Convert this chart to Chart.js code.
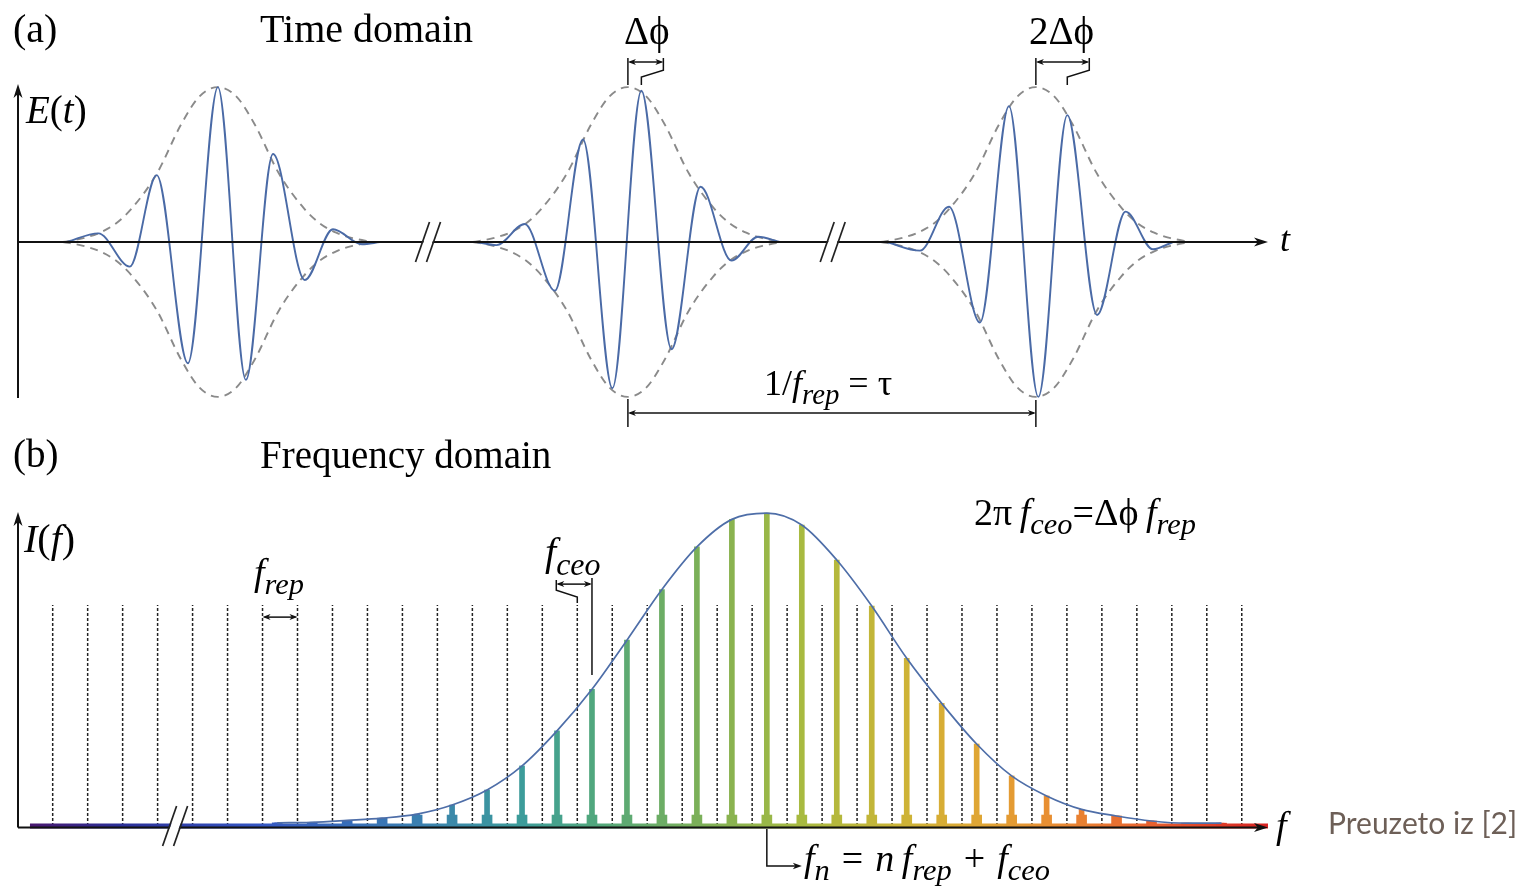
<!DOCTYPE html>
<html>
<head>
<meta charset="utf-8">
<title>Time and frequency domain of a frequency comb</title>
<script src="https://cdn.jsdelivr.net/npm/chart.js@4.4.0/dist/chart.umd.min.js"></script>
<style>
  html, body { margin:0; padding:0; background:#fff; }
  #page { position:relative; width:1520px; height:889px; overflow:hidden; }
  canvas { position:absolute; left:0; }
  #timeCanvas { top:0; }
  #freqCanvas { top:440px; }
  .lbl { position:absolute; font-family:"Liberation Serif","Times New Roman",serif; line-height:1; white-space:nowrap; color:#000; }
  .lbl sub { font-size:0.8em; position:relative; top:0.3em; vertical-align:baseline; line-height:0; }
  .lbl .op { margin:0 12px; }
  .src { position:absolute; font-family:Lato,"Open Sans",sans-serif; font-size:30px; line-height:1; color:#6d5f57; white-space:nowrap; }
</style>
</head>
<body>
<div id="page">
  <canvas id="timeCanvas" width="1520" height="440"></canvas>
  <canvas id="freqCanvas" width="1520" height="449"></canvas>

  <div class="lbl" style="left:13px;top:9px;font-size:40px">(a)</div>
  <div class="lbl" style="left:260px;top:9px;font-size:40px">Time domain</div>
  <div class="lbl" style="left:624px;top:11px;font-size:39px">Δϕ</div>
  <div class="lbl" style="left:1029px;top:11px;font-size:39px">2Δϕ</div>
  <div class="lbl" style="left:26px;top:90px;font-size:39px"><i>E</i>(<i>t</i>)</div>
  <div class="lbl" style="left:1280px;top:221px;font-size:36px"><i>t</i></div>
  <div class="lbl" style="left:764px;top:365px;font-size:36px">1/<i>f</i><sub><i>rep</i></sub> = τ</div>

  <div class="lbl" style="left:13px;top:434px;font-size:39px">(b)</div>
  <div class="lbl" style="left:260px;top:435px;font-size:39px">Frequency domain</div>
  <div class="lbl" style="left:24px;top:519px;font-size:40px"><i>I</i>(<i>f</i>)</div>
  <div class="lbl" style="left:254px;top:553px;font-size:38px"><i>f</i><sub><i>rep</i></sub></div>
  <div class="lbl" style="left:545px;top:532px;font-size:40px"><i>f</i><sub><i>ceo</i></sub></div>
  <div class="lbl" style="left:974px;top:493px;font-size:38px">2π&thinsp;<i>f</i><sub><i>ceo</i></sub>=Δϕ&thinsp;<i>f</i><sub><i>rep</i></sub></div>
  <div class="lbl" style="left:804px;top:839px;font-size:38px"><i>f</i><sub><i>n</i></sub><span class="op">=</span><i>n</i>&thinsp;<i>f</i><sub><i>rep</i></sub><span class="op">+</span><i>f</i><sub><i>ceo</i></sub></div>
  <div class="lbl" style="left:1276px;top:806px;font-size:38px"><i>f</i></div>
  <div class="src" style="left:1328px;top:807px">Preuzeto iz [2]</div>
</div>

<script>
// (a) time domain, time in units where the pulse spacing 1/f_rep is about 10
const pulseCenters = [0, 10.05, 20.05];
const breakTimes = [5.15, 15.07];

// Gaussian envelope shape (offset from centre, level)
const envOffset = [-3.8, -3.3, -2.9, -2.5, -2.1, -1.5, -0.9, -0.45, 0, 0.45, 0.9, 1.5, 2.1, 2.5, 2.9, 3.3, 3.8];
const envLevel  = [0, 0.025, 0.06, 0.12, 0.22, 0.44, 0.76, 0.94, 1, 0.94, 0.76, 0.44, 0.22, 0.12, 0.06, 0.025, 0];

// field extrema of each pulse (time, E)
const pulse1T = [-3.70, -2.93, -2.16, -1.50, -0.735, 0.0, 0.686, 1.35, 2.13, 2.82, 3.53, 3.97];
const pulse1E = [0, 0.056, -0.159, 0.432, -0.783, 1.0, -0.89, 0.568, -0.245, 0.082, -0.015, 0];
const pulse2T = [6.34, 6.83, 7.52, 8.26, 8.95, 9.67, 10.38, 11.12, 11.83, 12.59, 13.24, 13.77];
const pulse2E = [0, -0.02, 0.116, -0.314, 0.662, -0.944, 0.976, -0.692, 0.357, -0.12, 0.034, 0];
const pulse3T = [16.39, 17.21, 17.92, 18.68, 19.39, 20.11, 20.82, 21.55, 22.25, 22.92, 23.41];
const pulse3E = [0, -0.056, 0.228, -0.52, 0.877, -1.0, 0.819, -0.471, 0.196, -0.047, 0];

// (b) frequency domain, frequency in units of f_rep
const gridFreq = [0,1,2,3,4,5,6,7,8,9,10,11,12,13,14,15,16,17,18,19,20,21,22,23,24,25,26,27,28,29,30,31,32,33,34];
const F_CEO = 0.42;
const modeNumbers = [6,7,8,9,10,11,12,13,14,15,16,17,18,19,20,21,22,23,24,25,26,27,28,29,30,31,32,33];
const toothLevel = [0.010, 0.012, 0.018, 0.025, 0.038, 0.067, 0.115, 0.192, 0.304, 0.437, 0.594, 0.756, 0.892, 0.98,
                    1.0, 0.962, 0.85, 0.703, 0.536, 0.392, 0.262, 0.16, 0.096, 0.053, 0.032, 0.016, 0.009, 0.009];
const freqBreak = 3.5;
const GRID_TOP = 0.706;   // height of the dotted mode markers
const FOOT_LEVEL = 0.035; // broadened base of each comb line
const CEO_MODE = 15;      // mode used to mark f_ceo
const REP_MARK = 6;       // grid cell used to mark f_rep

// spectrum colours along the frequency axis
const SPECTRUM = [
  [-0.65, '#4a1870'], [1.9, '#2b2f98'], [5.9, '#3456c4'], [10.5, '#3a80b0'], [13.4, '#3c9c9a'],
  [15.6, '#52a87c'], [18.5, '#7cb058'], [21.4, '#a8ba40'], [24.2, '#ccb436'], [26.5, '#e0a634'],
  [28.8, '#e98a32'], [31.4, '#e8602e'], [34.75, '#d82222']
];

function hexRgb(h) { return [1,3,5].map(i => parseInt(h.substr(i, 2), 16)); }
function colorAt(f) {
  if (f <= SPECTRUM[0][0]) return SPECTRUM[0][1];
  for (let i = 1; i < SPECTRUM.length; i++) {
    if (f <= SPECTRUM[i][0]) {
      const [f0, c0] = SPECTRUM[i-1], [f1, c1] = SPECTRUM[i];
      const u = (f - f0) / (f1 - f0), a = hexRgb(c0), b = hexRgb(c1);
      return 'rgb(' + a.map((v, k) => Math.round(v + (b[k] - v) * u)).join(',') + ')';
    }
  }
  return SPECTRUM[SPECTRUM.length-1][1];
}

// ---- drawing helpers
function line(ctx, pts) {
  ctx.beginPath();
  ctx.moveTo(pts[0][0], pts[0][1]);
  for (let i = 1; i < pts.length; i++) ctx.lineTo(pts[i][0], pts[i][1]);
  ctx.stroke();
}
function arrowHead(ctx, x, y, ang, len, half) {
  ctx.save();
  ctx.translate(x, y); ctx.rotate(ang);
  ctx.beginPath();
  ctx.moveTo(0, 0);
  ctx.lineTo(-len, -half);
  ctx.lineTo(-len * 0.72, 0);
  ctx.lineTo(-len, half);
  ctx.closePath();
  ctx.fill();
  ctx.restore();
}
function dimArrow(ctx, x1, x2, y) {
  line(ctx, [[x1 + 2, y], [x2 - 2, y]]);
  arrowHead(ctx, x1, y, Math.PI, 8, 3);
  arrowHead(ctx, x2, y, 0, 8, 3);
}
function drawBreak(ctx, x, y) {
  const dx = 7, dy = 20, g = 11, a = x - g/2, b = x + g/2;
  ctx.save();
  ctx.fillStyle = '#fff';
  ctx.beginPath();
  ctx.moveTo(a - dx + 1, y + dy); ctx.lineTo(a + dx + 1, y - dy);
  ctx.lineTo(b + dx - 1, y - dy); ctx.lineTo(b - dx - 1, y + dy);
  ctx.closePath(); ctx.fill();
  ctx.strokeStyle = '#222'; ctx.lineWidth = 1.7;
  line(ctx, [[a - dx, y + dy], [a + dx, y - dy]]);
  line(ctx, [[b - dx, y + dy], [b + dx, y - dy]]);
  ctx.restore();
}

// ---- chart (a)
const pulses = [[pulse1T, pulse1E], [pulse2T, pulse2E], [pulse3T, pulse3E]];
const timeDatasets = [];
pulseCenters.forEach(c => {
  [1, -1].forEach(s => timeDatasets.push({
    data: envOffset.map((o, i) => ({ x: c + o, y: s * envLevel[i] })),
    borderColor: '#8a8a8a', borderWidth: 1.9, borderDash: [8, 6],
    cubicInterpolationMode: 'monotone', pointRadius: 0, clip: false, order: 2
  }));
});
pulses.forEach(([ts, es]) => timeDatasets.push({
  data: ts.map((t, i) => ({ x: t, y: es[i] })),
  borderColor: '#4a6aa6', borderWidth: 1.9,
  cubicInterpolationMode: 'monotone', pointRadius: 0, clip: false, order: 1
}));

const timeDecor = {
  id: 'timeDecor',
  afterDatasetsDraw(chart) {
    const { ctx, chartArea: a, scales: { x, y } } = chart;
    const y0 = y.getPixelForValue(0);
    ctx.save();
    ctx.strokeStyle = '#111'; ctx.fillStyle = '#111'; ctx.lineWidth = 2;
    line(ctx, [[a.left, y0], [a.right - 8, y0]]);
    arrowHead(ctx, a.right, y0, 0, 14, 4.5);
    line(ctx, [[a.left, a.bottom - 2], [a.left, a.top + 8]]);
    arrowHead(ctx, a.left, a.top, -Math.PI / 2, 14, 4.5);
    breakTimes.forEach(t => drawBreak(ctx, x.getPixelForValue(t), y0));

    // carrier-envelope phase brackets on pulses 2 and 3
    ctx.lineWidth = 1.5;
    const yTop = y.getPixelForValue(1);
    [1, 2].forEach(k => {
      const c = pulseCenters[k], [ts, es] = pulses[k];
      const idx = ts.findIndex((t, i) => t > c && es[i] > 0);
      const cx = x.getPixelForValue(c), px = x.getPixelForValue(ts[idx]), ex = px + 22;
      line(ctx, [[cx, yTop - 2], [cx, yTop - 29]]);
      line(ctx, [[ex, yTop - 29], [ex, yTop - 17], [px, yTop - 10], [px, yTop - 2]]);
      dimArrow(ctx, cx, ex, yTop - 25);
    });

    // 1/f_rep dimension between pulses 2 and 3
    const yb = y.getPixelForValue(-1);
    const x2 = x.getPixelForValue(pulseCenters[1]), x3 = x.getPixelForValue(pulseCenters[2]);
    line(ctx, [[x2, yb + 2], [x2, yb + 30]]);
    line(ctx, [[x3, yb + 3], [x3, yb + 30]]);
    dimArrow(ctx, x2, x3, yb + 16);
    ctx.restore();
  }
};

new Chart(document.getElementById('timeCanvas'), {
  type: 'line',
  data: { datasets: timeDatasets },
  options: {
    responsive: false, animation: false, events: [],
    layout: { padding: { left: 18, right: 252, top: 84, bottom: 40 } },
    plugins: { legend: { display: false }, tooltip: { enabled: false } },
    scales: {
      x: { type: 'linear', min: -4.9, max: 25.74, display: false, offset: false },
      y: { type: 'linear', min: -1.02, max: 1.02, display: false }
    }
  },
  plugins: [timeDecor]
});

// ---- chart (b)
const toothFreq = modeNumbers.map(n => n + F_CEO);
const toothColors = toothFreq.map(colorAt);
const gridData = [];
gridFreq.forEach(n => gridData.push({ x: n, y: 0 }, { x: n, y: GRID_TOP }, { x: n, y: null }));

function spectrumGradient(chart) {
  const { ctx, scales: { x } } = chart;
  const f0 = SPECTRUM[0][0], f1 = SPECTRUM[SPECTRUM.length - 1][0];
  const g = ctx.createLinearGradient(x.getPixelForValue(f0), 0, x.getPixelForValue(f1), 0);
  SPECTRUM.forEach(([f, c]) => g.addColorStop((f - f0) / (f1 - f0), c));
  return g;
}

const freqDecor = {
  id: 'freqDecor',
  afterDatasetsDraw(chart) {
    const { ctx, chartArea: a, scales: { x, y } } = chart;
    const yAxis = a.bottom + 1.5;
    ctx.save();
    ctx.strokeStyle = '#111'; ctx.fillStyle = '#111'; ctx.lineWidth = 2;
    line(ctx, [[a.left, yAxis], [a.right - 8, yAxis]]);
    arrowHead(ctx, a.right, yAxis, 0, 14, 4.5);
    line(ctx, [[a.left, yAxis], [a.left, a.top + 10]]);
    arrowHead(ctx, a.left, a.top + 2, -Math.PI / 2, 14, 4.5);
    drawBreak(ctx, x.getPixelForValue(freqBreak), a.bottom);

    ctx.lineWidth = 1.5;
    const gTop = y.getPixelForValue(GRID_TOP);
    // f_rep spacing
    dimArrow(ctx, x.getPixelForValue(REP_MARK), x.getPixelForValue(REP_MARK + 1), gTop + 12);
    // f_ceo offset
    const xg = x.getPixelForValue(CEO_MODE), xt = x.getPixelForValue(CEO_MODE + F_CEO), xl = xg - 21;
    line(ctx, [[xl, gTop - 25], [xl, gTop - 15], [xg, gTop - 8], [xg, gTop - 2]]);
    line(ctx, [[xt, gTop - 27], [xt, gTop + 70]]);
    dimArrow(ctx, xl, xt, gTop - 21);
    // f_n pointer on the strongest line
    const top = toothLevel.indexOf(Math.max(...toothLevel));
    const xn = x.getPixelForValue(toothFreq[top]);
    line(ctx, [[xn, a.bottom + 3], [xn, a.bottom + 40], [xn + 30, a.bottom + 40]]);
    arrowHead(ctx, xn + 35, a.bottom + 40, 0, 9, 3.2);
    ctx.restore();
  }
};

new Chart(document.getElementById('freqCanvas'), {
  type: 'line',
  data: {
    datasets: [
      { // envelope
        data: toothFreq.map((f, i) => ({ x: f, y: toothLevel[i] })),
        borderColor: '#4e6ea8', borderWidth: 1.7, cubicInterpolationMode: 'monotone',
        pointRadius: 0, clip: false, order: 0
      },
      { // comb lines
        type: 'bar', data: toothFreq.map((f, i) => ({ x: f, y: toothLevel[i] })),
        backgroundColor: toothColors, barThickness: 5, grouped: false, clip: false, order: 1
      },
      { // broadened feet
        type: 'bar', data: toothFreq.map((f, i) => ({ x: f, y: Math.min(toothLevel[i], FOOT_LEVEL) })),
        backgroundColor: toothColors, barThickness: 10, grouped: false, clip: false, order: 2
      },
      { // coloured spectrum base line
        data: [{ x: SPECTRUM[0][0], y: 0 }, { x: SPECTRUM[SPECTRUM.length - 1][0], y: 0 }],
        borderColor: c => c.chart.chartArea ? spectrumGradient(c.chart) : '#888',
        borderWidth: 5, pointRadius: 0, clip: false, order: 3
      },
      { // dotted n*f_rep markers
        data: gridData, spanGaps: false, borderColor: '#222', borderWidth: 1.5,
        borderDash: [3, 2], pointRadius: 0, tension: 0, clip: false, order: 4
      }
    ]
  },
  options: {
    responsive: false, animation: false, events: [],
    layout: { padding: { left: 18, right: 252, top: 70, bottom: 63 } },
    plugins: { legend: { display: false }, tooltip: { enabled: false } },
    scales: {
      x: { type: 'linear', min: -0.992, max: 34.75, display: false, offset: false },
      y: { type: 'linear', min: 0, max: 1.01, display: false }
    }
  },
  plugins: [freqDecor]
});
</script>
</body>
</html>
